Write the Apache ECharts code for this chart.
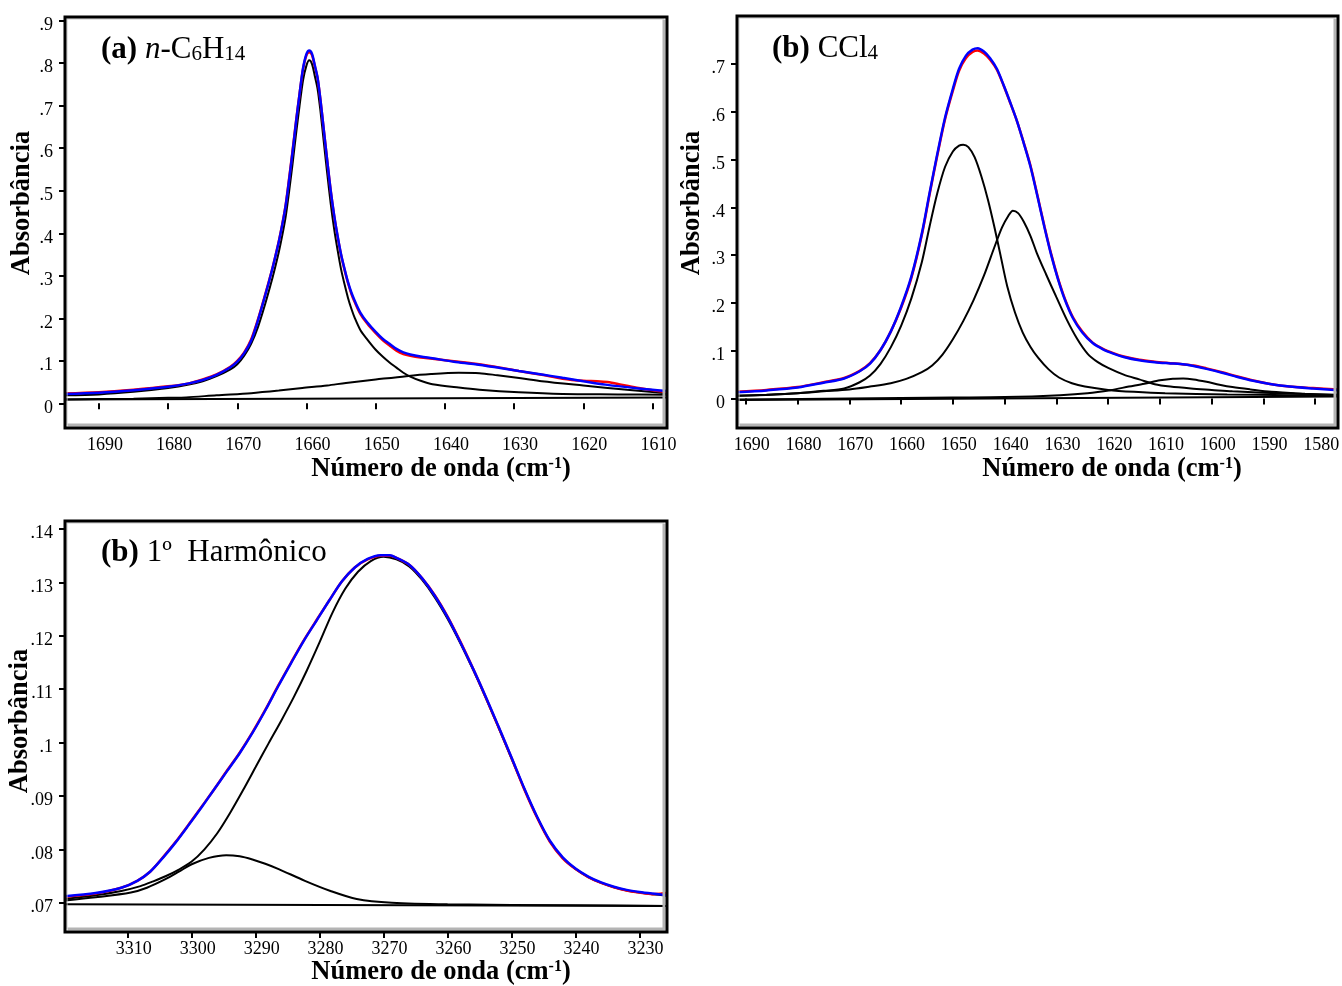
<!DOCTYPE html>
<html>
<head>
<meta charset="utf-8">
<script src="https://cdn.jsdelivr.net/npm/echarts@6/dist/echarts.min.js"></script>
<style>
html,body{margin:0;padding:0;background:#fff;}
#chart{width:1342px;height:986px;}
</style>
</head>
<body>
<div id="chart"></div>
<script>
// ---------------- Panel (a) n-C6H14 ----------------
const aXTicks = [1690, 1680, 1670, 1660, 1650, 1640, 1630, 1620, 1610];
const aYTicks = [0, 0.1, 0.2, 0.3, 0.4, 0.5, 0.6, 0.7, 0.8, 0.9];
const aFit = [[1695,0.022],[1690,0.025],[1685,0.031],[1680,0.039],[1677,0.047],[1675,0.055],[1673,0.067],[1671,0.085],[1670,0.098],[1669,0.118],[1668,0.147],[1667,0.196],[1666,0.252],[1665,0.312],[1664.5,0.345],[1664,0.380],[1663.5,0.420],[1663,0.466],[1662.5,0.527],[1662,0.593],[1661.5,0.663],[1661,0.728],[1660.5,0.788],[1660,0.822],[1659.6,0.830],[1659.2,0.822],[1658.8,0.795],[1658.4,0.766],[1658,0.716],[1657.5,0.643],[1657,0.570],[1656.5,0.500],[1656,0.442],[1655.5,0.393],[1655,0.350],[1654.5,0.316],[1654,0.285],[1653.5,0.260],[1653,0.240],[1652.2,0.213],[1651.2,0.190],[1650,0.168],[1649,0.152],[1648,0.140],[1647,0.128],[1646,0.120],[1645,0.115],[1643.5,0.110],[1641.8,0.106],[1638.7,0.098],[1635.6,0.092],[1632,0.083],[1629.3,0.076],[1626,0.068],[1623,0.060],[1620,0.052],[1616.8,0.044],[1612,0.035],[1608,0.029]];
const aObserved = [[1695,0.023],[1690,0.026],[1685,0.032],[1680,0.040],[1677,0.047],[1675,0.056],[1673,0.068],[1671,0.086],[1670,0.100],[1669,0.120],[1668,0.150],[1667,0.198],[1666,0.254],[1665,0.313],[1664.5,0.346],[1664,0.381],[1663.5,0.421],[1663,0.468],[1662.5,0.530],[1662,0.596],[1661.5,0.665],[1661,0.728],[1660.5,0.786],[1660,0.819],[1659.6,0.826],[1659.2,0.819],[1658.8,0.793],[1658.4,0.765],[1658,0.716],[1657.5,0.643],[1657,0.570],[1656.5,0.500],[1656,0.441],[1655.5,0.392],[1655,0.349],[1654.5,0.314],[1654,0.283],[1653.5,0.257],[1653,0.237],[1652.2,0.210],[1651.2,0.187],[1650,0.165],[1649,0.149],[1648,0.136],[1647,0.124],[1646,0.116],[1645,0.112],[1643.5,0.108],[1641.8,0.105],[1638.7,0.099],[1635.6,0.093],[1632,0.084],[1629.3,0.076],[1626,0.067],[1623,0.058],[1620,0.053],[1618,0.052],[1616.5,0.050],[1614.5,0.044],[1612,0.036],[1610,0.031],[1608,0.027]];
const aBandMain = [[1695,0.019],[1690,0.021],[1685,0.027],[1680,0.036],[1677,0.044],[1675,0.052],[1673,0.064],[1671,0.080],[1670,0.092],[1669,0.112],[1668,0.140],[1667,0.180],[1666,0.232],[1665,0.290],[1664.5,0.322],[1664,0.356],[1663.5,0.395],[1663,0.440],[1662.5,0.500],[1662,0.565],[1661.5,0.635],[1661,0.700],[1660.5,0.760],[1660,0.795],[1659.6,0.807],[1659.2,0.798],[1658.8,0.770],[1658.4,0.740],[1658,0.690],[1657.5,0.615],[1657,0.540],[1656.5,0.470],[1656,0.410],[1655.5,0.360],[1655,0.315],[1654.5,0.280],[1654,0.248],[1653.5,0.222],[1653,0.200],[1652.2,0.172],[1651.2,0.150],[1650,0.126],[1649,0.110],[1648,0.096],[1647,0.084],[1646,0.072],[1645,0.063],[1643.5,0.053],[1641.8,0.045],[1638,0.037],[1635,0.032],[1629.3,0.026],[1623,0.022],[1615,0.021],[1608,0.020]];
const aBandBroad = [[1695,0.009],[1690,0.010],[1685,0.011],[1680,0.013],[1677.4,0.014],[1673,0.019],[1668,0.024],[1664,0.030],[1660.6,0.036],[1657,0.042],[1654.3,0.048],[1650,0.056],[1645.6,0.064],[1642,0.069],[1638,0.072],[1635,0.071],[1632.4,0.066],[1629,0.059],[1626,0.052],[1620,0.042],[1613.7,0.032],[1608,0.024]];
const aBaseline = [[1695,0.009],[1608,0.014]];

// ---------------- Panel (b) CCl4 ----------------
const bXTicks = [1690, 1680, 1670, 1660, 1650, 1640, 1630, 1620, 1610, 1600, 1590, 1580];
const bYTicks = [0, 0.1, 0.2, 0.3, 0.4, 0.5, 0.6, 0.7];
const bFit = [[1691.7,0.013],[1686,0.017],[1680,0.023],[1675,0.033],[1671,0.042],[1668,0.057],[1666,0.073],[1664,0.101],[1662,0.140],[1660,0.192],[1658,0.256],[1656,0.345],[1654.5,0.430],[1653,0.512],[1651.5,0.588],[1650,0.648],[1648.8,0.690],[1647.5,0.717],[1646.2,0.730],[1645.2,0.733],[1644,0.726],[1642.8,0.712],[1641.5,0.690],[1640.2,0.656],[1639,0.622],[1637.6,0.580],[1636.3,0.534],[1635,0.485],[1633.6,0.420],[1632.3,0.358],[1631,0.300],[1629.7,0.250],[1628.3,0.205],[1626.8,0.168],[1625,0.138],[1623,0.116],[1621,0.103],[1619,0.094],[1617,0.087],[1614,0.080],[1611,0.076],[1608,0.0735],[1606,0.072],[1603.5,0.068],[1601,0.062],[1598,0.054],[1595,0.045],[1592,0.037],[1589,0.031],[1585,0.025],[1580.4,0.021],[1575.6,0.0175]];
const bObserved = [[1691.7,0.014],[1686,0.018],[1680,0.024],[1675,0.034],[1671,0.043],[1668,0.058],[1666,0.074],[1664,0.101],[1662,0.140],[1660,0.190],[1658,0.253],[1656,0.342],[1654.5,0.427],[1653,0.509],[1651.5,0.585],[1650,0.644],[1648.8,0.686],[1647.5,0.712],[1646.2,0.725],[1645.2,0.728],[1644,0.722],[1642.8,0.709],[1641.5,0.688],[1640.2,0.655],[1639,0.621],[1637.6,0.580],[1636.3,0.535],[1635,0.487],[1633.6,0.422],[1632.3,0.360],[1631,0.302],[1629.7,0.252],[1628.3,0.207],[1626.8,0.170],[1625,0.140],[1623,0.117],[1621,0.104],[1619,0.095],[1617,0.088],[1614,0.081],[1611,0.077],[1608,0.074],[1606,0.072],[1603.5,0.069],[1601,0.063],[1598,0.055],[1595,0.046],[1592,0.038],[1589,0.031],[1585,0.025],[1580.4,0.022],[1575.6,0.019]];
const bBand1 = [[1691.7,0.006],[1685,0.008],[1680,0.011],[1675,0.016],[1671,0.021],[1668,0.034],[1666,0.048],[1664,0.072],[1662,0.107],[1660,0.152],[1658,0.210],[1656,0.285],[1654.5,0.360],[1653,0.430],[1651.5,0.485],[1650,0.517],[1648.8,0.529],[1648,0.531],[1647,0.526],[1645.8,0.505],[1644.5,0.465],[1643.2,0.415],[1642,0.360],[1640.8,0.300],[1639.5,0.235],[1638,0.180],[1636.5,0.138],[1635,0.108],[1633.5,0.085],[1631.5,0.061],[1629.5,0.044],[1627,0.032],[1624.5,0.025],[1620,0.018],[1615,0.014],[1609,0.011],[1597,0.0085],[1585,0.007],[1575.6,0.006]];
const bBand2 = [[1691.7,0.006],[1686,0.008],[1680,0.011],[1675,0.015],[1670,0.019],[1666,0.025],[1662,0.032],[1659,0.041],[1656,0.055],[1654,0.069],[1652,0.092],[1650,0.124],[1648,0.162],[1646,0.206],[1644,0.257],[1642,0.316],[1640.5,0.358],[1639.3,0.382],[1638.4,0.393],[1637.4,0.388],[1636.3,0.370],[1635,0.340],[1633.8,0.305],[1632,0.260],[1630,0.212],[1628,0.165],[1626,0.125],[1624,0.094],[1622,0.076],[1620,0.064],[1617,0.050],[1614,0.040],[1611,0.030],[1608,0.025],[1604,0.021],[1600,0.018],[1596,0.015],[1590,0.012],[1584,0.010],[1575.6,0.008]];
const bBand3 = [[1691.7,-0.002],[1670,0.000],[1650,0.002],[1640,0.003],[1629.3,0.007],[1624,0.011],[1619.6,0.0175],[1616,0.025],[1613,0.031],[1610,0.038],[1607.5,0.0415],[1605.5,0.042],[1603.5,0.040],[1601,0.035],[1598.5,0.029],[1596,0.024],[1592.5,0.019],[1588.5,0.014],[1582,0.010],[1575.6,0.007]];
const bBaseline = [[1691.7,-0.003],[1575.6,0.004]];

// ---------------- Panel (c) 1º Harmônico ----------------
const cXTicks = [3310, 3300, 3290, 3280, 3270, 3260, 3250, 3240, 3230];
const cYTicks = [0.07, 0.08, 0.09, 0.10, 0.11, 0.12, 0.13, 0.14];
const cFit = [[3319.8,0.0712],[3315,0.0718],[3311,0.0728],[3308.5,0.0741],[3306.5,0.0758],[3304.5,0.0784],[3302.5,0.0813],[3300.5,0.0845],[3298.5,0.0878],[3296.5,0.0912],[3294.5,0.0946],[3292.5,0.0980],[3290.5,0.1018],[3288.5,0.1060],[3286.5,0.1105],[3284.5,0.1148],[3282.5,0.1190],[3280.5,0.1228],[3278.5,0.1266],[3276.5,0.1302],[3274.5,0.1328],[3272.5,0.1344],[3270.5,0.1351],[3269,0.1351],[3268,0.1346],[3266,0.1333],[3264,0.1308],[3262,0.1275],[3260,0.1235],[3258,0.1188],[3256,0.1138],[3254,0.1085],[3252,0.1029],[3250,0.0972],[3248,0.0914],[3246,0.0861],[3244,0.0816],[3242,0.0785],[3240,0.0764],[3238,0.0749],[3236,0.0738],[3234,0.0730],[3232,0.0724],[3230,0.0720],[3228,0.0717],[3225.7,0.0714]];
const cObserved = [[3319.8,0.0711],[3315,0.0717],[3311,0.0728],[3308.5,0.0741],[3306.5,0.0758],[3304.5,0.0785],[3302.5,0.0814],[3300.5,0.0846],[3298.5,0.0879],[3296.5,0.0912],[3294.5,0.0947],[3292.5,0.0981],[3290.5,0.1019],[3288.5,0.1061],[3286.5,0.1106],[3284.5,0.1149],[3282.5,0.1191],[3280.5,0.1229],[3278.5,0.1266],[3276.5,0.1302],[3274.5,0.1328],[3272.5,0.1343],[3270.5,0.1350],[3269,0.1350],[3268,0.1346],[3266,0.1333],[3264,0.1308],[3262,0.1276],[3260,0.1236],[3258,0.1189],[3256,0.1138],[3254,0.1084],[3252,0.1028],[3250,0.0971],[3248,0.0912],[3246,0.0859],[3244,0.0814],[3242,0.0783],[3240,0.0763],[3238,0.0748],[3236,0.0737],[3234,0.0729],[3232,0.0723],[3230,0.0719],[3228,0.0716],[3226.5,0.0717],[3225.7,0.0718]];
const cBandMain = [[3319.8,0.0707],[3315,0.0714],[3311,0.0722],[3308,0.0731],[3306,0.0740],[3304,0.0750],[3302,0.0762],[3300,0.0777],[3298,0.0800],[3296,0.0830],[3294,0.0868],[3292,0.0910],[3290,0.0954],[3288,0.0998],[3286,0.1041],[3284,0.1086],[3282,0.1135],[3280,0.1188],[3278,0.1243],[3276,0.1288],[3274,0.1320],[3272,0.1340],[3270,0.1348],[3268,0.1343],[3266,0.1330],[3264,0.1305],[3262,0.1272],[3260,0.1232],[3258,0.1186],[3256,0.1136],[3254,0.1083],[3252,0.1027],[3250,0.0970],[3248,0.0913],[3246,0.0860],[3244,0.0815],[3242,0.0784],[3240,0.0763],[3238,0.0748],[3236,0.0737],[3234,0.0729],[3232,0.0723],[3230,0.0719],[3228,0.0716],[3225.7,0.0713]];
const cBandSmall = [[3319.8,0.0704],[3315,0.0710],[3309.5,0.0719],[3307,0.0728],[3304.1,0.0744],[3302,0.0758],[3300,0.0772],[3297.3,0.0784],[3294.6,0.0789],[3292.5,0.0787],[3290.5,0.0781],[3288.5,0.0773],[3286.4,0.0763],[3282.3,0.0741],[3278.3,0.0722],[3274.2,0.0707],[3268.7,0.0700],[3260,0.0697],[3240,0.0695],[3225.7,0.0694]];
const cBaseline = [[3319.8,0.0697],[3225.7,0.0694]];

// ---------------- Layout / style ----------------
const SERIF = '"Liberation Serif", "Times New Roman", Times, serif';
const GRIDS = [
  {x0: 65, y0: 17, x1: 667, y1: 428},
  {x0: 737, y0: 16, x1: 1338, y1: 428},
  {x0: 65, y0: 521, x1: 667, y1: 932}
];
const RANGES = [
  {xmin: 1607.9, xmax: 1694.9, ymin: -0.058, ymax: 0.9087, xt: aXTicks, yt: aYTicks},
  {xmin: 1575.6, xmax: 1691.7, ymin: -0.0617, ymax: 0.8004, xt: bXTicks, yt: bYTicks},
  {xmin: 3225.7, xmax: 3319.8, ymin: 0.06451, ymax: 0.1415, xt: cXTicks, yt: cYTicks}
];

function yFmt(v) {
  if (Math.abs(v) < 1e-9) return '0';
  return String(+v.toFixed(2)).replace(/^0/, '');
}
function xFmt(v) { return String(Math.round(v)); }

const grid = GRIDS.map(g => ({left: g.x0, top: g.y0, width: g.x1 - g.x0, height: g.y1 - g.y0,
  show: false, containLabel: false, outerBoundsMode: 'none'}));
const xAxis = RANGES.map((r, i) => ({
  type: 'value', gridIndex: i, inverse: true, min: r.xmin, max: r.xmax,
  axisLine: {show: false},
  splitLine: {show: false},
  axisTick: {show: true, inside: false, length: 6, lineStyle: {color: '#000', width: 2}, customValues: r.xt},
  axisLabel: {show: true, customValues: r.xt, margin: 8, color: '#000', fontFamily: SERIF, fontSize: 18,
    padding: [0, 0, 0, 12], formatter: xFmt, hideOverlap: false}
}));
const yAxis = RANGES.map((r, i) => ({
  type: 'value', gridIndex: i, min: r.ymin, max: r.ymax,
  axisLine: {show: false},
  splitLine: {show: false},
  axisTick: {show: true, inside: false, length: 6, lineStyle: {color: '#000', width: 2}, customValues: r.yt},
  axisLabel: {show: true, customValues: r.yt, margin: 12, color: '#000', fontFamily: SERIF, fontSize: 18,
    verticalAlign: 'top', lineHeight: 9, formatter: yFmt, hideOverlap: false}
}));

function line(data, idx, color, width, z) {
  return {type: 'line', xAxisIndex: idx, yAxisIndex: idx, data: data, showSymbol: false, symbol: 'none',
    smooth: 0.3, lineStyle: {color: color, width: width}, z: z, silent: true, clip: true};
}
const BLACK = '#000000', RED = '#ff0000', BLUE = '#0000ff';
const series = [
  line(aBaseline, 0, BLACK, 2, 2), line(aBandBroad, 0, BLACK, 2, 2), line(aBandMain, 0, BLACK, 2, 2),
  line(aObserved, 0, RED, 2.5, 3), line(aFit, 0, BLUE, 2.5, 4),
  line(bBaseline, 1, BLACK, 2, 2), line(bBand3, 1, BLACK, 2, 2), line(bBand2, 1, BLACK, 2, 2), line(bBand1, 1, BLACK, 2, 2),
  line(bObserved, 1, RED, 2.5, 3), line(bFit, 1, BLUE, 2.5, 4),
  line(cBaseline, 2, BLACK, 2, 2), line(cBandSmall, 2, BLACK, 2, 2), line(cBandMain, 2, BLACK, 2, 2),
  line(cObserved, 2, RED, 2.5, 3), line(cFit, 2, BLUE, 2.5, 4)
];

// frames
const graphic = [];
GRIDS.forEach(g => {
  graphic.push({type: 'polyline', z: 90, silent: true,
    shape: {points: [[g.x0 + 2.5, g.y1 - 3], [g.x1 - 3, g.y1 - 3], [g.x1 - 3, g.y0 + 2.5]]},
    style: {stroke: '#b4b4b4', lineWidth: 3, fill: null}});
  graphic.push({type: 'polyline', z: 90, silent: true,
    shape: {points: [[g.x0 + 2, g.y1 - 3], [g.x0 + 2, g.y0 + 2], [g.x1 - 3, g.y0 + 2]]},
    style: {stroke: '#c8c8c8', lineWidth: 1, fill: null}});
  graphic.push({type: 'rect', z: 100, silent: true,
    shape: {x: g.x0, y: g.y0, width: g.x1 - g.x0, height: g.y1 - g.y0},
    style: {stroke: '#000', lineWidth: 3, fill: null}});
});

const TITLE_RICH = {
  b: {fontFamily: SERIF, fontSize: 31, fontWeight: 'bold', color: '#000', verticalAlign: 'bottom'},
  n: {fontFamily: SERIF, fontSize: 31, color: '#000', verticalAlign: 'bottom'},
  i: {fontFamily: SERIF, fontSize: 31, fontStyle: 'italic', color: '#000', verticalAlign: 'bottom'},
  s: {fontFamily: SERIF, fontSize: 21, color: '#000', verticalAlign: 'bottom'}
};
function richText(x, y, text, rich) {
  return {type: 'text', x: x, y: y, z: 110, silent: true,
    style: {text: text, rich: rich, align: 'left', verticalAlign: 'top', fill: '#000'}};
}
graphic.push(richText(101, 34, '{b|(a) }{i|n}{n|-C}{s|6}{n|H}{s|14}', TITLE_RICH));
graphic.push(richText(772, 33, '{b|(b) }{n|CCl}{s|4}', TITLE_RICH));
graphic.push(richText(101, 537, '{b|(b) }{n|1º  Harmônico}', TITLE_RICH));

const XNAME_RICH = {
  t: {fontFamily: SERIF, fontSize: 26.5, fontWeight: 'bold', color: '#000', verticalAlign: 'bottom'},
  sup: {fontFamily: SERIF, fontSize: 16, fontWeight: 'bold', color: '#000', verticalAlign: 'top'}
};
const XNAME = '{t|Número de onda (cm}{sup|-1}{t|)}';
function xName(cx, top) {
  return {type: 'text', x: cx, y: top, z: 110, silent: true,
    style: {text: XNAME, rich: XNAME_RICH, align: 'center', verticalAlign: 'top', fill: '#000'}};
}
graphic.push(xName(441, 456));
graphic.push(xName(1112, 456));
graphic.push(xName(441, 959));

function yName(cx, cy) {
  return {type: 'text', x: cx, y: cy, rotation: Math.PI / 2, z: 110, silent: true,
    style: {text: 'Absorbância', fontFamily: SERIF, fontSize: 26.5, fontWeight: 'bold', fill: '#000', align: 'center', verticalAlign: 'middle'}};
}
graphic.push(yName(22, 203));
graphic.push(yName(692, 203));
graphic.push(yName(20, 721));

const chart = echarts.init(document.getElementById('chart'), null, {renderer: 'canvas'});
chart.setOption({
  animation: false,
  backgroundColor: '#ffffff',
  grid: grid,
  xAxis: xAxis,
  yAxis: yAxis,
  series: series,
  graphic: graphic
});
</script>
</body>
</html>
